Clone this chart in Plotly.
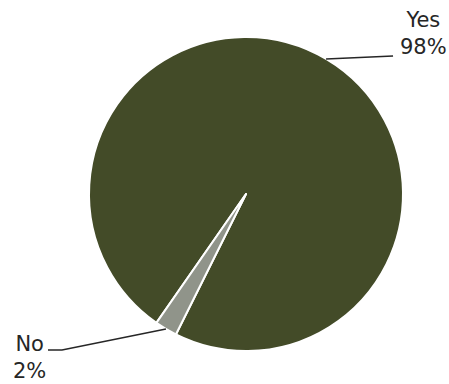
import math
import plotly.graph_objects as go

labels = ["Yes", "No"]
values = [97.7, 2.3]
pct_text = ["98%", "2%"]
colors = ["#434B28", "#90948A"]

W, H = 449, 384
cx, cy, R = 246, 194, 157
rotation = -145.2

fig = go.Figure(go.Pie(
    labels=labels, values=values, sort=False, direction="clockwise",
    rotation=rotation, textinfo="none", hoverinfo="label+percent",
    marker=dict(colors=colors, line=dict(color="white", width=2)),
    domain=dict(x=[(cx - R) / W, (cx + R) / W], y=[1 - (cy + R) / H, 1 - (cy - R) / H]),
    showlegend=False,
))

def px(x, y):
    return x / W, 1 - y / H

total = sum(values)
start = rotation
mids = []
for v in values:
    span = 360 * v / total
    mids.append(start + span / 2)
    start += span

edge = []
for m in mids:
    a = math.radians(m)
    edge.append((cx + R * math.sin(a), cy - R * math.cos(a)))

line_col = "#262626"
font = dict(family="DejaVu Sans", size=21, color="#262626")

# Yes leader + label
ex, ey = edge[0]
x0, y0 = px(ex, ey)
x1, y1 = px(ex + 67, ey - 3)
fig.add_shape(type="line", xref="paper", yref="paper", x0=x0, y0=y0, x1=x1, y1=y1,
              line=dict(color=line_col, width=1.5))
lx, ly = px(423, 34)
fig.add_annotation(xref="paper", yref="paper", x=lx, y=ly, text=f"{labels[0]}<br>{pct_text[0]}",
                   showarrow=False, font=font, align="center", xanchor="center", yanchor="middle")

# No leader + label
ex, ey = edge[1]
pts = [(ex, ey), (62, 350), (48, 350)]
path = "M " + " L ".join(f"{px(x, y)[0]},{px(x, y)[1]}" for x, y in pts)
fig.add_shape(type="path", xref="paper", yref="paper", path=path,
              line=dict(color=line_col, width=1.5))
lx, ly = px(29, 357)
fig.add_annotation(xref="paper", yref="paper", x=lx, y=ly, text=f"{labels[1]}<br>{pct_text[1]}",
                   showarrow=False, font=font, align="center", xanchor="center", yanchor="middle")

fig.update_layout(width=W, height=H, margin=dict(l=0, r=0, t=0, b=0),
                  paper_bgcolor="white", plot_bgcolor="white")
fig.write_html("out.html")
